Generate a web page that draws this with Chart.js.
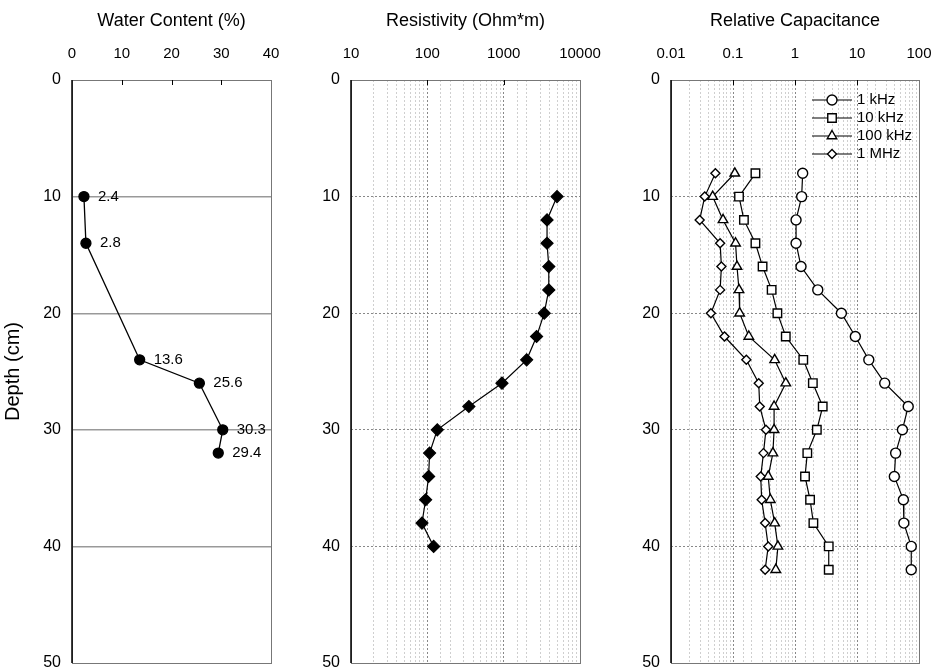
<!DOCTYPE html>
<html>
<head>
<meta charset="utf-8">
<script src="https://cdn.jsdelivr.net/npm/chart.js@4.4.1/dist/chart.umd.min.js"></script>
<style>
  html, body { margin: 0; padding: 0; background: #fff; overflow: hidden; }
  #wrap { position: relative; width: 935px; height: 671px; }
  #wrap canvas { position: absolute; left: 0; top: 0; }
</style>
</head>
<body>
<div id="wrap">
  <canvas id="wc" width="935" height="671"></canvas>
  <canvas id="res" width="935" height="671"></canvas>
  <canvas id="cap" width="935" height="671"></canvas>
</div>
<script>
// --- data (depth in cm) ---
const wcDepth = [10, 14, 24, 26, 30, 32];
const waterContent = [2.4, 2.8, 13.6, 25.6, 30.3, 29.4];

const resDepth = [10, 12, 14, 16, 18, 20, 22, 24, 26, 28, 30, 32, 34, 36, 38, 40];
const resistivity = [5000, 3700, 3700, 3900, 3900, 3400, 2700, 2000, 950, 350, 135, 107, 104, 95, 85, 121];

const capDepth = [8, 10, 12, 14, 16, 18, 20, 22, 24, 26, 28, 30, 32, 34, 36, 38, 40, 42];
const cap1kHz = [1.33, 1.28, 1.04, 1.04, 1.25, 2.33, 5.6, 9.4, 15.5, 28, 67, 54, 42, 40, 56, 57, 75, 75];
const cap10kHz = [0.23, 0.125, 0.15, 0.23, 0.30, 0.42, 0.52, 0.71, 1.36, 1.94, 2.8, 2.25, 1.58, 1.45, 1.75, 1.98, 3.5, 3.5];
const cap100kHz = [0.107, 0.047, 0.069, 0.11, 0.116, 0.125, 0.128, 0.18, 0.47, 0.71, 0.46, 0.46, 0.44, 0.37, 0.40, 0.47, 0.53, 0.49];
const cap1MHz = [0.052, 0.035, 0.029, 0.062, 0.065, 0.062, 0.044, 0.073, 0.164, 0.26, 0.27, 0.34, 0.31, 0.28, 0.29, 0.33, 0.37, 0.33];
const capSeries = ['1 kHz', '10 kHz', '100 kHz', '1 MHz'];

const wcTicks = [0, 10, 20, 30, 40];
const resTicks = [10, 100, 1000, 10000];
const capTicks = [0.01, 0.1, 1, 10, 100];
const depthTicks = [0, 10, 20, 30, 40, 50];

const FONT = "'Liberation Sans', Arial, sans-serif";
Chart.defaults.font.family = FONT;
Chart.defaults.color = '#000';

const toPoints = (xs, ys) => ys.map((y, i) => ({ x: xs[i], y }));

// only label the listed ticks, keep the other log ticks for the minor grid
const labelIf = list => v => {
  const hit = list.find(t => Math.abs(t - v) <= 1e-6 * Math.max(1, Math.abs(t)));
  return hit === undefined ? '' : String(hit);
};

// fixed box sizes (and no edge padding) so the three plot areas line up with the original
function depthAxis(width, showTitle, gridColor, dotted) {
  return {
    type: 'linear',
    reverse: true,
    min: 0, max: 50,
    afterFit: s => { s.width = width; s.paddingTop = 0; s.paddingBottom = 0; },
    afterBuildTicks: s => { s.ticks = depthTicks.map(v => ({ value: v })); },
    ticks: { padding: 11, font: { size: 16, lineHeight: 1 }, color: '#000' },
    grid: {
      drawTicks: false,
      color: c => (c.tick && (c.tick.value === 0 || c.tick.value === 50)) ? 'rgba(0,0,0,0)' : gridColor,
      lineWidth: dotted ? 1 : 1.4
    },
    border: { display: false, dash: dotted ? [2, 2] : [] },
    title: { display: showTitle, text: 'Depth (cm)', font: { size: 20 }, color: '#000', padding: { top: 1, bottom: 0 } }
  };
}

function topAxis(type, min, max, title, labels, dotted) {
  const ax = {
    type, position: 'top', min, max,
    afterFit: s => { s.height = 80; s.paddingLeft = 0; s.paddingRight = 0; },
    ticks: {
      autoSkip: false, maxRotation: 0, padding: 17,
      font: { size: 15 }, color: '#000',
      callback: labelIf(labels)
    },
    grid: {
      display: dotted,
      drawTicks: false,
      color: c => {
        if (!c.tick) return '#bbb';
        const e = Math.log10(c.tick.value);
        return Math.abs(e - Math.round(e)) < 1e-6 ? '#888' : '#cfcfcf';
      },
      lineWidth: 1
    },
    border: { display: false, dash: [2, 2] },
    title: { display: true, text: title, font: { size: 18 }, color: '#000', padding: { top: 10, bottom: 0 } }
  };
  if (type === 'linear') ax.afterBuildTicks = s => { s.ticks = labels.map(v => ({ value: v })); };
  return ax;
}

// plot frame: thin grey box, solid black depth axis, small inner ticks along the top
const framePlugin = {
  id: 'frame',
  beforeDatasetsDraw(chart) {
    const { ctx, chartArea: a, scales } = chart;
    ctx.save();
    ctx.strokeStyle = '#777';
    ctx.lineWidth = 1;
    ctx.strokeRect(a.left + 0.5, a.top + 0.5, a.right - a.left, a.bottom - a.top);
    ctx.strokeStyle = '#000';
    ctx.lineWidth = 1.5;
    ctx.beginPath();
    ctx.moveTo(a.left, a.top);
    ctx.lineTo(a.left, a.bottom);
    ctx.stroke();
    const x = scales.x;
    const marks = chart.options.innerTicks || [];
    ctx.lineWidth = 1;
    marks.forEach(v => {
      const px = Math.round(x.getPixelForValue(v)) + 0.5;
      ctx.beginPath();
      ctx.moveTo(px, a.top);
      ctx.lineTo(px, a.top + 5);
      ctx.stroke();
    });
    ctx.restore();
  }
};

const valueLabels = {
  id: 'valueLabels',
  afterDatasetsDraw(chart) {
    const { ctx } = chart;
    const meta = chart.getDatasetMeta(0);
    ctx.save();
    ctx.font = '15px ' + FONT;
    ctx.fillStyle = '#000';
    ctx.textBaseline = 'middle';
    meta.data.forEach((pt, i) => {
      ctx.fillText(String(waterContent[i]), pt.x + 14, pt.y);
    });
    ctx.restore();
  }
};

// line + marker legend inside the top right corner of the capacitance panel
const lineLegend = {
  id: 'lineLegend',
  afterDraw(chart) {
    const { ctx, chartArea: a } = chart;
    ctx.save();
    ctx.font = '15px ' + FONT;
    ctx.textBaseline = 'middle';
    chart.data.datasets.forEach((ds, i) => {
      const y = a.top + 20 + i * 18;
      const x0 = a.right - 107, x1 = a.right - 67, xm = (x0 + x1) / 2;
      ctx.strokeStyle = '#000';
      ctx.lineWidth = 1.2;
      ctx.beginPath();
      ctx.moveTo(x0, y);
      ctx.lineTo(x1, y);
      ctx.stroke();
      ctx.fillStyle = '#fff';
      ctx.lineWidth = ds.pointBorderWidth;
      Chart.helpers.drawPoint(ctx, { pointStyle: ds.pointStyle, radius: ds.pointRadius, rotation: 0, borderWidth: ds.pointBorderWidth }, xm, y);
      ctx.fillStyle = '#000';
      ctx.fillText(ds.label, x1 + 5, y);
    });
    ctx.restore();
  }
};

function baseOptions(pad, xAxis, yAxis) {
  return {
    responsive: false,
    animation: false,
    layout: { padding: pad, autoPadding: false },
    plugins: { legend: { display: false }, tooltip: { enabled: false } },
    scales: { x: xAxis, y: yAxis }
  };
}

// --- water content ---
const wcOpts = baseOptions({ left: 0, right: 935 - 271, top: 0, bottom: 8 },
  topAxis('linear', 0, 40, 'Water Content (%)', wcTicks, false),
  depthAxis(72, true, '#999', false));
wcOpts.innerTicks = [10, 20, 30];
new Chart(document.getElementById('wc'), {
  type: 'scatter',
  data: {
    datasets: [{
      data: toPoints(waterContent, wcDepth),
      showLine: true,
      borderColor: '#000',
      borderWidth: 1.3,
      pointStyle: 'circle',
      pointRadius: 5,
      pointBackgroundColor: '#000',
      pointBorderColor: '#000'
    }]
  },
  options: wcOpts,
  plugins: [framePlugin, valueLabels]
});

// --- resistivity ---
const resOpts = baseOptions({ left: 301, right: 935 - 580, top: 0, bottom: 8 },
  topAxis('logarithmic', 10, 10000, 'Resistivity (Ohm*m)', resTicks, true),
  depthAxis(50, false, '#888', true));
resOpts.innerTicks = [100, 1000];
new Chart(document.getElementById('res'), {
  type: 'scatter',
  data: {
    datasets: [{
      data: toPoints(resistivity, resDepth),
      showLine: true,
      borderColor: '#000',
      borderWidth: 1.2,
      pointStyle: 'rectRot',
      pointRadius: 6,
      pointBackgroundColor: '#000',
      pointBorderColor: '#000'
    }]
  },
  options: resOpts,
  plugins: [framePlugin]
});

// --- relative capacitance ---
const capValues = [cap1kHz, cap10kHz, cap100kHz, cap1MHz];
const capStyles = [
  { pointStyle: 'circle', pointRadius: 5 },
  { pointStyle: 'rect', pointRadius: 6 },
  { pointStyle: 'triangle', pointRadius: 5.5 },
  { pointStyle: 'rectRot', pointRadius: 4.5 }
];
const capOpts = baseOptions({ left: 621, right: 935 - 919, top: 0, bottom: 8 },
  topAxis('logarithmic', 0.01, 100, 'Relative Capacitance', capTicks, true),
  depthAxis(50, false, '#888', true));
capOpts.innerTicks = [0.1, 1, 10];
new Chart(document.getElementById('cap'), {
  type: 'scatter',
  data: {
    datasets: capValues.map((vals, i) => Object.assign({
      label: capSeries[i],
      data: toPoints(vals, capDepth),
      showLine: true,
      borderColor: '#000',
      borderWidth: 1.2,
      pointBackgroundColor: '#fff',
      pointBorderColor: '#000',
      pointBorderWidth: 1.4
    }, capStyles[i]))
  },
  options: capOpts,
  plugins: [framePlugin, lineLegend]
});
</script>
</body>
</html>
